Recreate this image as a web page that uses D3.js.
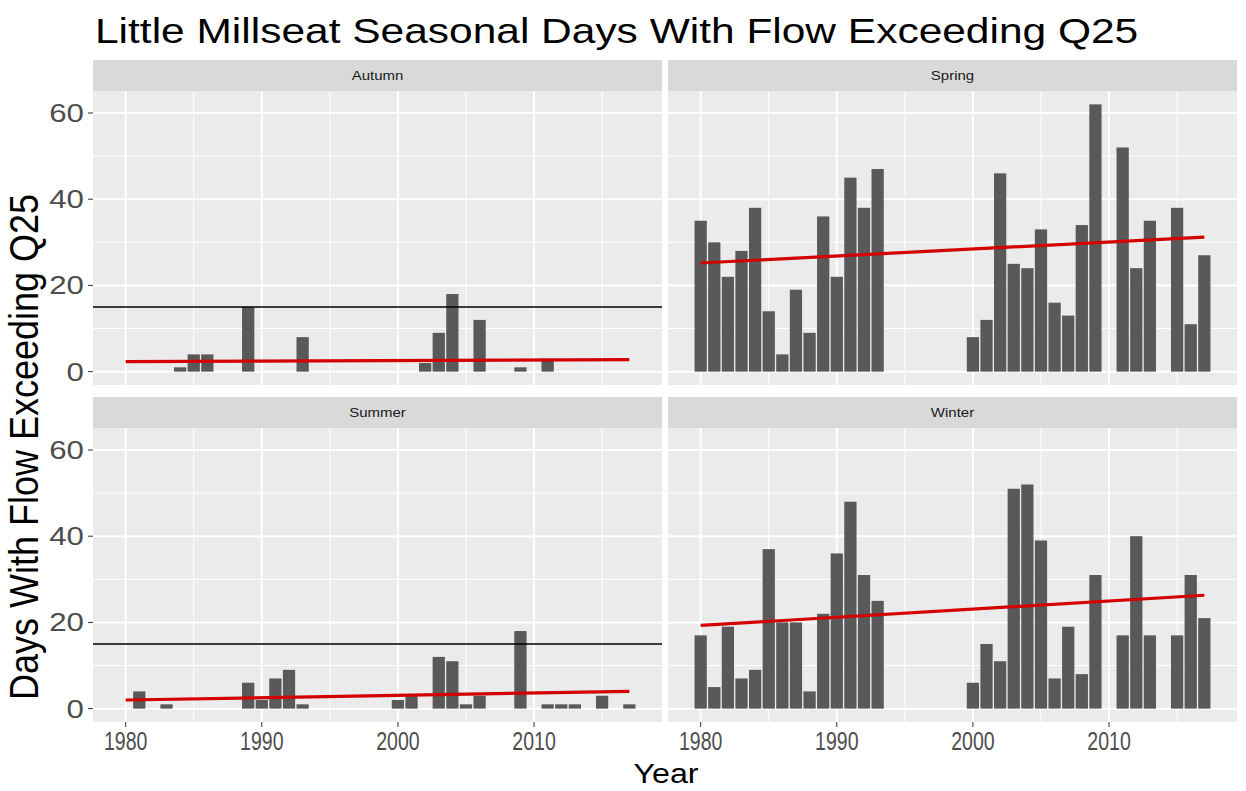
<!DOCTYPE html>
<html>
<head>
<meta charset="utf-8">
<script src="https://cdn.jsdelivr.net/npm/d3@7"></script>
<style>
  body { margin: 0; background: #fff; }
  text { font-family: "Liberation Sans", Arial, sans-serif; }
</style>
</head>
<body>
<div id="graph"></div>
<script>
// data (days per season, 1980-2017, null = no data)
var years = [1980, 1981, 1982, 1983, 1984, 1985, 1986, 1987, 1988, 1989,
             1990, 1991, 1992, 1993, 1994, 1995, 1996, 1997, 1998, 1999,
             2000, 2001, 2002, 2003, 2004, 2005, 2006, 2007, 2008, 2009,
             2010, 2011, 2012, 2013, 2014, 2015, 2016, 2017];

var autumn = [0, 0, 0, 0, 1, 4, 4, 0, 0, 15,
              0, 0, 0, 8, 0, 0, 0, 0, 0, 0,
              0, 0, 2, 9, 18, 0, 12, 0, 0, 1,
              0, 3, 0, 0, 0, 0, 0, 0];
var spring = [35, 30, 22, 28, 38, 14, 4, 19, 9, 36,
              22, 45, 38, 47, null, null, null, null, null, null,
              8, 12, 46, 25, 24, 33, 16, 13, 34, 62,
              null, 52, 24, 35, null, 38, 11, 27];
var summer = [0, 4, 0, 1, 0, 0, 0, 0, 0, 6,
              2, 7, 9, 1, null, null, null, null, null, null,
              2, 3, 0, 12, 11, 1, 3, 0, 0, 18,
              0, 1, 1, 1, 0, 3, 0, 1];
var winter = [17, 5, 19, 7, 9, 37, 20, 20, 4, 22,
              36, 48, 31, 25, null, null, null, null, null, null,
              6, 15, 11, 51, 52, 39, 7, 19, 8, 31,
              null, 17, 40, 17, null, 17, 31, 21];

var seasons = ["Autumn", "Spring", "Summer", "Winter"];
// fitted trend (value at 1980, value at 2017)
var trendStart = [2.3, 25.2, 2.0, 19.3];
var trendEnd = [2.8, 31.2, 4.0, 26.3];
// Q25 reference line, only drawn for autumn and summer
var refLine = [15, null, 15, null];

var yTicks = [0, 20, 40, 60];
var yMinor = [10, 30, 50];
var xTicks = [1980, 1990, 2000, 2010];
var xMinor = [1985, 1995, 2005, 2015];

var series = [autumn, spring, summer, winter];

var width = 1246, height = 791;
var colX = [93, 668], panelW = 569;
var stripTop = [60, 397], stripH = 31, panelH = 294;

var svg = d3.select("#graph").append("svg")
    .attr("width", width)
    .attr("height", height);

var x = d3.scaleLinear()
    .domain([1977.6, 2019.4])
    .range([0, panelW]);
var y = d3.scaleLinear()
    .domain([-3.1, 65.1])
    .range([panelH, 0]);
var barW = x(1980.45) - x(1979.55);

// stretched text, the reference has squashed/widened glyphs
function label(g, str, tx, ty, size, sx, anchor, color) {
    return g.append("text")
        .attr("transform", "translate(" + tx + "," + ty + ") scale(" + sx + ",1)")
        .attr("text-anchor", anchor)
        .attr("font-size", size)
        .attr("fill", color)
        .text(str);
}

seasons.forEach(function (name, i) {
    var col = i % 2, row = Math.floor(i / 2);
    var g = svg.append("g")
        .attr("transform", "translate(" + colX[col] + "," + (stripTop[row] + stripH) + ")");

    // strip
    svg.append("rect")
        .attr("x", colX[col]).attr("y", stripTop[row])
        .attr("width", panelW).attr("height", stripH)
        .attr("fill", "#d9d9d9");
    label(svg, name, colX[col] + panelW / 2, stripTop[row] + 20, 12, 1.25, "middle", "#1a1a1a");

    g.append("rect")
        .attr("width", panelW).attr("height", panelH)
        .attr("fill", "#ebebeb");

    // grid
    g.selectAll(".ymin").data(yMinor).enter().append("line")
        .attr("x1", 0).attr("x2", panelW)
        .attr("y1", d => y(d)).attr("y2", d => y(d))
        .attr("stroke", "#fff").attr("stroke-width", 1);
    g.selectAll(".xmin").data(xMinor).enter().append("line")
        .attr("y1", 0).attr("y2", panelH)
        .attr("x1", d => x(d)).attr("x2", d => x(d))
        .attr("stroke", "#fff").attr("stroke-width", 1);
    g.selectAll(".ymaj").data(yTicks).enter().append("line")
        .attr("x1", 0).attr("x2", panelW)
        .attr("y1", d => y(d)).attr("y2", d => y(d))
        .attr("stroke", "#fff").attr("stroke-width", 2);
    g.selectAll(".xmaj").data(xTicks).enter().append("line")
        .attr("y1", 0).attr("y2", panelH)
        .attr("x1", d => x(d)).attr("x2", d => x(d))
        .attr("stroke", "#fff").attr("stroke-width", 2);

    // bars
    var vals = series[i];
    g.selectAll(".bar")
        .data(years.filter((yr, k) => vals[k] != null && vals[k] > 0))
        .enter().append("rect")
        .attr("fill", "#595959")
        .attr("x", d => x(d) - barW / 2)
        .attr("width", barW)
        .attr("y", d => y(vals[years.indexOf(d)]))
        .attr("height", d => y(0) - y(vals[years.indexOf(d)]));

    if (refLine[i] != null) {
        g.append("line")
            .attr("x1", 0).attr("x2", panelW)
            .attr("y1", y(refLine[i])).attr("y2", y(refLine[i]))
            .attr("stroke", "#000").attr("stroke-width", 1.6);
    }

    g.append("line")
        .attr("x1", x(years[0])).attr("x2", x(years[years.length - 1]))
        .attr("y1", y(trendStart[i])).attr("y2", y(trendEnd[i]))
        .attr("stroke", "#d40000").attr("stroke-width", 3.2);

    // y axis on left column
    if (col == 0) {
        yTicks.forEach(function (t) {
            g.append("line")
                .attr("x1", -5).attr("x2", 0)
                .attr("y1", y(t)).attr("y2", y(t))
                .attr("stroke", "#333").attr("stroke-width", 1);
            label(g, t, -9, y(t) + 9, 25, 1.25, "end", "#4d4d4d");
        });
    }
    // x axis on bottom row
    if (row == 1) {
        xTicks.forEach(function (t) {
            g.append("line")
                .attr("x1", x(t)).attr("x2", x(t))
                .attr("y1", panelH).attr("y2", panelH + 5)
                .attr("stroke", "#333").attr("stroke-width", 1);
            label(g, t, x(t), panelH + 28, 25, 0.78, "middle", "#4d4d4d");
        });
    }
});

// titles
label(svg, "Little Millseat Seasonal Days With Flow Exceeding Q25", 95, 43, 36, 1.18, "start", "#000");
label(svg, "Year", 666, 783, 28, 1.15, "middle", "#000");
svg.append("text")
    .attr("transform", "translate(38,447) scale(1.15,1) rotate(-90)")
    .attr("text-anchor", "middle")
    .attr("font-size", 36)
    .attr("fill", "#000")
    .text("Days With Flow Exceeding Q25");
</script>
</body>
</html>
